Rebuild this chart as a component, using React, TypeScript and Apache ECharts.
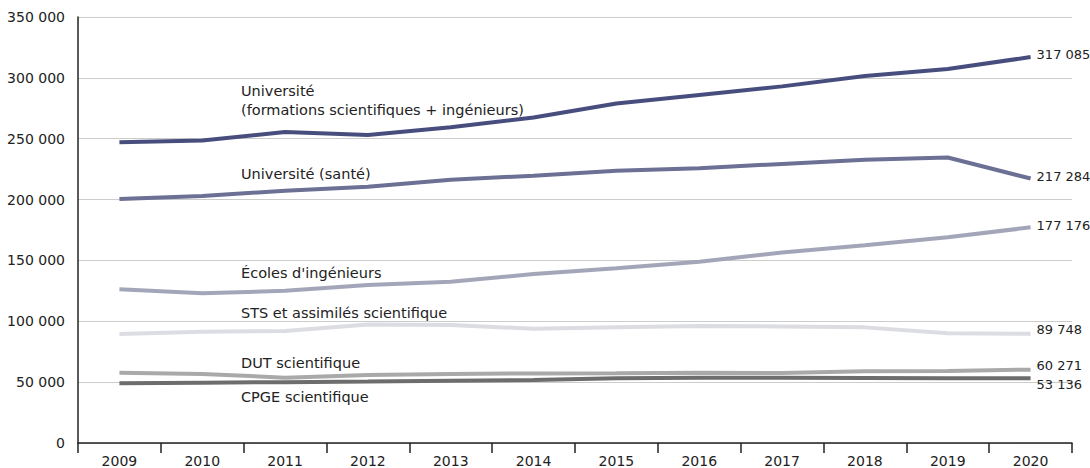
import React, { useEffect, useRef } from "react";
import * as echarts from "echarts";

const years = ["2009", "2010", "2011", "2012", "2013", "2014", "2015", "2016", "2017", "2018", "2019", "2020"];

const univSci = [247000, 248500, 255500, 253000, 259500, 267500, 279000, 286000, 293000, 301500, 307300, 317085];
const univSante = [200500, 203000, 207300, 210600, 216300, 219600, 223700, 225700, 229300, 232800, 234600, 217284];
const ecolesIng = [126300, 123000, 125100, 129800, 132500, 138800, 143500, 149000, 156500, 162500, 169000, 177176];
const sts = [89600, 91500, 92000, 97300, 97000, 93900, 95000, 96100, 95800, 95000, 90100, 89748];
const dut = [57800, 56700, 53700, 55900, 56700, 57200, 57400, 57800, 57500, 58900, 59200, 60271];
const cpge = [49000, 49500, 50000, 50500, 51200, 51700, 53100, 53700, 53600, 53400, 53200, 53136];

const seriesNames = [
  "Université\n(formations scientifiques + ingénieurs)",
  "Université (santé)",
  "Écoles d'ingénieurs",
  "STS et assimilés scientifique",
  "DUT scientifique",
  "CPGE scientifique",
];

const fmt = (v: number) => String(Math.round(v)).replace(/\B(?=(\d{3})+(?!\d))/g, " ");

export default function App() {
  const ref = useRef<HTMLDivElement>(null);
  useEffect(() => {
    document.body.style.margin = "0";
    document.body.style.overflow = "hidden";
    if (!ref.current) return;
    const chart = echarts.init(ref.current, null, { renderer: "svg" });
    const font = "'DejaVu Sans', 'Open Sans', sans-serif";
    const data = [univSci, univSante, ecolesIng, sts, dut, cpge];
    const colors = ["#474e7e", "#6b7094", "#a3a6b8", "#dcdde2", "#a9a9a9", "#6d6d6d"];
    const labelOffsets = [[0, -3], [0, -2], [0, -2], [0, -4], [0, -4], [0, 6]];
    const labelPos: [number, number][] = [[241, 81], [241, 164], [241, 263], [241, 303], [241, 353], [241, 387]];
    chart.setOption({
      animation: false,
      grid: { left: 78, right: 18, top: 17, bottom: 25, containLabel: false },
      xAxis: {
        type: "category",
        data: years,
        boundaryGap: true,
        axisLine: { lineStyle: { color: "#222", width: 1.5 } },
        axisTick: { show: true, length: 10, lineStyle: { color: "#222", width: 1.5 } },
        axisLabel: { color: "#222", fontSize: 14, fontFamily: font, margin: 11 },
        splitLine: { show: false },
      },
      yAxis: {
        type: "value",
        min: 0,
        max: 350000,
        interval: 50000,
        axisLine: { show: true, lineStyle: { color: "#222", width: 1.5 } },
        axisTick: { show: false },
        axisLabel: { color: "#222", fontSize: 14, fontFamily: font, margin: 13, formatter: (v: number) => fmt(v) },
        splitLine: { lineStyle: { color: "#cccccc", width: 1 } },
      },
      graphic: seriesNames.map((n, i) => ({
        type: "text",
        left: labelPos[i][0],
        top: labelPos[i][1],
        z: 1,
        style: { text: n, fill: "#222", font: `14.5px ${font}`, lineHeight: 19 },
      })),
      series: data.map((d, i) => ({
        type: "line",
        name: seriesNames[i],
        data: d,
        symbol: "none",
        lineStyle: { color: colors[i], width: 4 },
        itemStyle: { color: colors[i] },
        z: 10 - i,
        endLabel: {
          show: true,
          distance: 6,
          offset: labelOffsets[i],
          color: "#222",
          fontSize: 13,
          fontFamily: font,
          formatter: (p: any) => fmt(p.value),
        },
      })),
    });
    return () => chart.dispose();
  }, []);
  return <div ref={ref} style={{ width: 1090, height: 468 }} />;
}
